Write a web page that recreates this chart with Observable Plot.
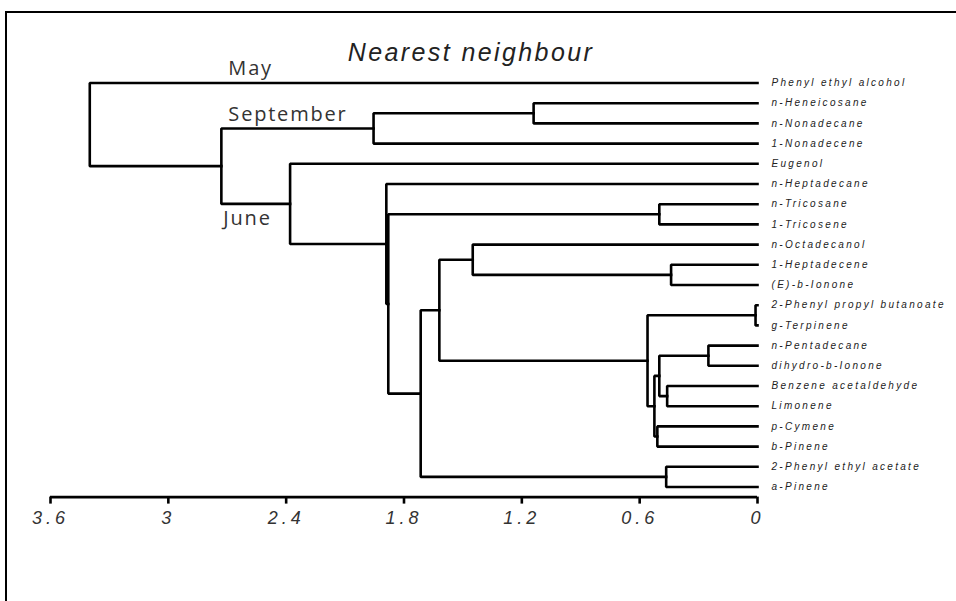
<!DOCTYPE html>
<html>
<head>
<meta charset="utf-8">
<script src="https://cdn.jsdelivr.net/npm/d3@7"></script>
<script src="https://cdn.jsdelivr.net/npm/@observablehq/plot@0.6"></script>
<style>
  body { margin: 0; background: #fff; }
  #wrap { position: relative; width: 956px; height: 601px; overflow: hidden; background: #fff; }
  #frame { position: absolute; left: 5px; top: 11px; right: -10px; bottom: -10px;
           border-left: 2px solid #000; border-top: 2px solid #000; pointer-events: none; }
  [aria-description="leaf"] text { letter-spacing: 2.3px; }
  [aria-label="x-axis tick label"] text { letter-spacing: 4px; }
  [aria-description="month"] text { letter-spacing: 1.8px; }
  [aria-description="title"] text { letter-spacing: 2.4px; }
</style>
</head>
<body>
<div id="wrap"><div id="frame"></div></div>
<script>
// ---- data ----
const title = "Nearest neighbour";

// leaves, top to bottom
const leaves = [
  "Phenyl ethyl alcohol", "n-Heneicosane", "n-Nonadecane", "1-Nonadecene", "Eugenol",
  "n-Heptadecane", "n-Tricosane", "1-Tricosene", "n-Octadecanol", "1-Heptadecene",
  "(E)-b-Ionone", "2-Phenyl propyl butanoate", "g-Terpinene", "n-Pentadecane",
  "dihydro-b-Ionone", "Benzene acetaldehyde", "Limonene", "p-Cymene", "b-Pinene",
  "2-Phenyl ethyl acetate", "a-Pinene"
];

// merges (ids 0..20 are leaves, merge k gets id 21 + k)
const mergeLeft   = [1,    21,    6,    9,    8,    11,   13,   15,   27,   17,   29,    26,   25,   19,    33,    23,   5,    4,    22,   0];
const mergeRight  = [2,    3,     7,    10,   24,   12,   14,   16,   28,   18,   30,    31,   32,   20,    34,    35,   36,   37,   38,   39];
const mergeHeight = [1.14, 1.955, 0.50, 0.44, 1.45, 0.01, 0.25, 0.46, 0.50, 0.51, 0.525, 0.56, 1.62, 0.465, 1.715, 1.88, 1.89, 2.38, 2.73, 3.40];

// axis ticks
const tickValues = [3.6, 3, 2.4, 1.8, 1.2, 0.6, 0];

// month annotations: label, node it marks, side
const monthLabels = ["May", "September", "June"];
const monthNodes  = [0, 22, 38];
const monthSide   = [-1, -1, 1];

// ---- layout (height from data, row = midpoint of children) ----
const n = leaves.length;
const H = leaves.map(() => 0);
const R = leaves.map((_, i) => i);
mergeHeight.forEach((h, k) => {
  H[n + k] = h;
  R[n + k] = (R[mergeLeft[k]] + R[mergeRight[k]]) / 2;
});
const rootId = n + mergeHeight.length - 1;

const segs = [];
mergeHeight.forEach((h, k) => {
  const a = mergeLeft[k], b = mergeRight[k];
  segs.push({x: H[a], y: R[a], z: k});
  segs.push({x: h,    y: R[a], z: k});
  segs.push({x: h,    y: R[b], z: k});
  segs.push({x: H[b], y: R[b], z: k});
});

const leafData = leaves.map((name, i) => ({name, x: 0, y: i}));
const monthData = monthLabels.map((label, i) => ({
  label, x: H[rootId - 1], y: R[monthNodes[i]], side: monthSide[i]
}));
const yBottom = n - 1 + 0.5;

const chart = Plot.plot({
  width: 956,
  height: 601,
  marginLeft: 50,
  marginRight: 199,
  marginTop: 82.5,
  marginBottom: 104.4,
  style: {fontFamily: "'Liberation Sans', Arial, sans-serif", background: "transparent", overflow: "visible"},
  x: {domain: [3.6, 0], axis: null, label: null},
  y: {domain: [0, yBottom], reverse: true, axis: null, label: null},
  marks: [
    Plot.ruleY([yBottom], {stroke: "#000", strokeWidth: 2.6}),
    Plot.axisX({
      anchor: "bottom", ticks: tickValues, tickFormat: d => `${d}`, label: null,
      tickSize: 7, tickPadding: 7, fontSize: 18, fontStyle: "italic",
      strokeWidth: 2.6, stroke: "#000", color: "#333", fill: "#333"
    }),
    Plot.line(segs, {x: "x", y: "y", z: "z", stroke: "#000", strokeWidth: 2.6,
      strokeLinejoin: "miter", strokeLinecap: "square"}),
    Plot.text(leafData, {x: "x", y: "y", text: "name", dx: 14, textAnchor: "start",
      fontSize: 10, fontStyle: "italic", fill: "#222", ariaDescription: "leaf"}),
    Plot.text(monthData.filter(d => d.side < 0), {x: "x", y: "y", text: "label", dx: 7, dy: -14,
      textAnchor: "start", fontFamily: "'Open Sans', sans-serif", fontSize: 20, fill: "#333", ariaDescription: "month"}),
    Plot.text(monthData.filter(d => d.side > 0), {x: "x", y: "y", text: "label", dx: 2, dy: 15,
      textAnchor: "start", fontFamily: "'Open Sans', sans-serif", fontSize: 20, fill: "#333", ariaDescription: "month"}),
    Plot.text([title], {frameAnchor: "top", text: d => d, dx: 67, dy: -22, lineAnchor: "bottom",
      fontSize: 25, fontStyle: "italic", fill: "#222", ariaDescription: "title"})
  ]
});
chart.style.position = "absolute";
chart.style.left = "0px";
chart.style.top = "0px";
document.getElementById("wrap").prepend(chart);
</script>
</body>
</html>
